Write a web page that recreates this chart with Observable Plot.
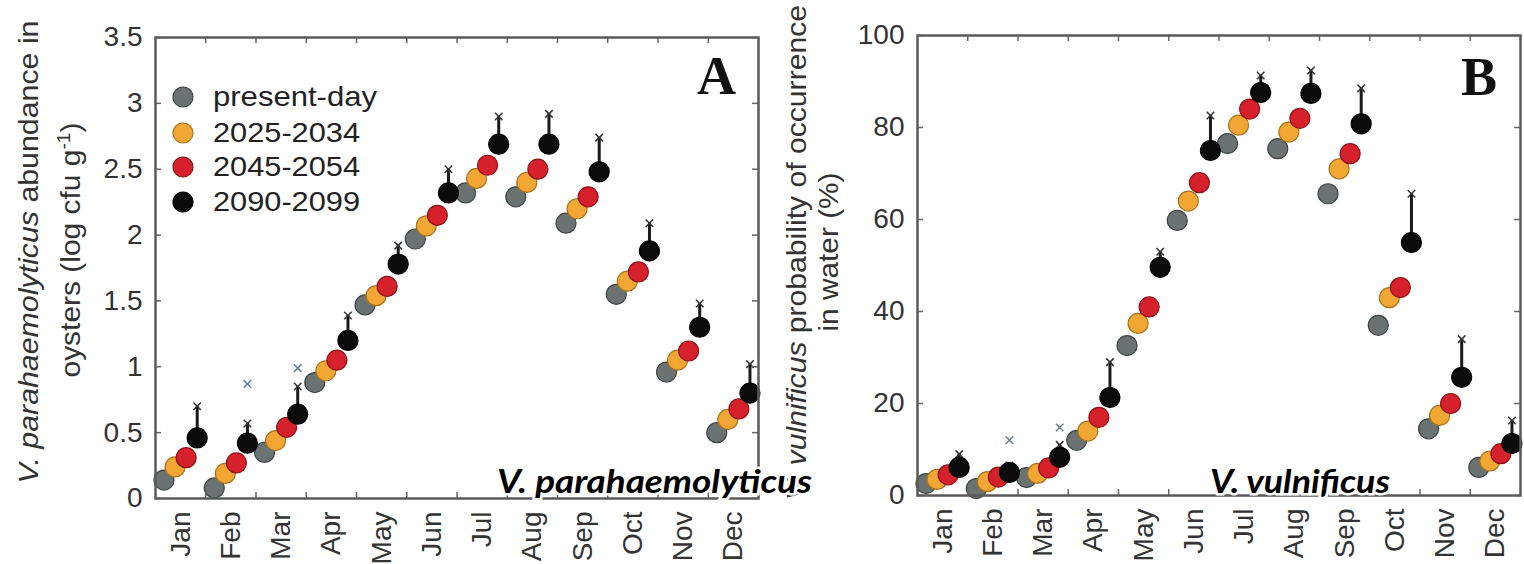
<!DOCTYPE html>
<html><head><meta charset="utf-8">
<script src="https://cdn.jsdelivr.net/npm/d3@7"></script>
<script src="https://cdn.jsdelivr.net/npm/@observablehq/plot@0.6"></script>
<style>
body{margin:0;background:#fff;}
#wrap{position:relative;width:1524px;height:564px;overflow:hidden;background:#fff;}
#wrap > svg{position:absolute;top:0;}
</style></head><body><div id="wrap"></div>
<script>
// ---- data ----
const months = ["Jan","Feb","Mar","Apr","May","Jun","Jul","Aug","Sep","Oct","Nov","Dec"];
const scenarios = ["present-day","2025-2034","2045-2054","2090-2099"];
const fills = ["#6b7372","#f2a634","#d6202b","#0b0b0b"];
const edges = ["#3e4644","#a8741c","#8c1218","#000000"];

// Panel A: V. parahaemolyticus abundance in oysters (log cfu g-1)
const vpPresent = [0.14,0.08,0.35,0.88,1.47,1.97,2.32,2.29,2.09,1.55,0.96,0.50];
const vp2025    = [0.24,0.19,0.44,0.97,1.54,2.07,2.43,2.40,2.20,1.65,1.05,0.60];
const vp2045    = [0.31,0.27,0.54,1.05,1.61,2.15,2.53,2.50,2.29,1.72,1.12,0.68];
const vp2090    = [0.46,0.42,0.64,1.20,1.78,2.32,2.69,2.69,2.48,1.88,1.30,0.80];
const vp2090Max = [0.70,0.57,0.85,1.39,1.92,2.50,2.90,2.92,2.74,2.09,1.48,1.02];
const vpOutMonth = [2,3];
const vpOutValue = [0.87,0.99];
const vpTicks = [0,0.5,1,1.5,2,2.5,3,3.5];

// Panel B: V. vulnificus probability of occurrence in water (%)
const vvPresent = [2.6,1.5,3.9,12.0,32.6,59.8,76.5,75.4,65.6,37.0,14.5,6.1];
const vv2025    = [3.5,3.0,4.8,14.0,37.4,64.0,80.5,79.0,71.0,43.0,17.4,7.5];
const vv2045    = [4.5,4.0,6.0,17.0,41.0,68.0,84.0,82.0,74.3,45.2,20.0,9.1];
const vv2090    = [6.1,5.0,8.3,21.3,49.6,75.0,87.6,87.4,80.8,55.0,25.7,11.3];
const vv2090Max = [9.0,6.5,11.0,29.0,53.0,82.6,91.3,92.4,88.5,65.6,34.0,16.3];
const vvOutMonth = [2,3];
const vvOutValue = [12.0,14.8];
const vvTicks = [0,20,40,60,80,100];

const FONT = "'Liberation Sans', Arial, sans-serif";
const monthNums = months.map((m,i)=>i+1);
const boundaries = months.slice(1).map((m,i)=>i+1.5);
const OFF = 0.22; // horizontal dodge between scenarios (month units)
const xOf = (month,k) => month + (k-1.5)*OFF;

function panel(o){
  const series = [o.present,o.s2025,o.s2045,o.s2090];
  const innerW = o.width - o.marginLeft - o.marginRight;
  const innerH = 564 - o.marginTop - o.marginBottom;
  const spread = o.max.map((v,i)=>({month:i+1, lo:o.s2090[i], hi:v}));
  const outs = o.outM.map((m,i)=>({month:m, value:o.outV[i]}));
  const dotMarks = series.map((vals,k)=>Plot.dot(vals.map((v,i)=>({month:i+1,value:v})), {
    x: d=>xOf(d.month,k), y:"value", r:10, fill:fills[k], stroke:edges[k], strokeWidth:1.2
  }));
  return Plot.plot({
    width:o.width, height:564,
    marginLeft:o.marginLeft, marginRight:o.marginRight, marginTop:o.marginTop, marginBottom:o.marginBottom,
    style:{fontSize:"28px", fontFamily:FONT, color:"#333", background:"transparent", overflow:"visible"},
    x:{domain:[0.5,12.5], ticks:monthNums, tickFormat:i=>months[i-1], tickRotate:-90, tickSize:0, tickPadding:13, label:null},
    y:{domain:o.yDomain, ticks:o.yTicks, tickFormat:d=>String(d), tickSize:0, tickPadding:13, label:null},
    marks:[
      Plot.ruleX(spread, {x:d=>xOf(d.month,3), y1:"lo", y2:"hi", stroke:"#1a1a1a", strokeWidth:3}),
      Plot.dot(spread, {x:d=>xOf(d.month,3), y:"hi", symbol:"times", r:3.5, stroke:"#333", strokeWidth:1.5}),
      Plot.dot(outs, {x:d=>xOf(d.month,3), y:"value", symbol:"times", r:3.5, stroke:"#6d7f90", strokeWidth:1.5}),
      ...dotMarks,
      Plot.tickX(boundaries, {x:d=>d, insetTop:innerH-6, stroke:"#666", strokeWidth:1.5}),
      Plot.tickX(boundaries, {x:d=>d, insetBottom:innerH-6, stroke:"#666", strokeWidth:1.5}),
      Plot.tickY(o.yTicks, {y:d=>d, insetRight:innerW-6, stroke:"#666", strokeWidth:1.5}),
      Plot.tickY(o.yTicks, {y:d=>d, insetLeft:innerW-6, stroke:"#666", strokeWidth:1.5}),
      Plot.frame({stroke:"#5a5a5a", strokeWidth:2.5})
    ]
  });
}

const wrap = document.getElementById("wrap");
const A = panel({present:vpPresent,s2025:vp2025,s2045:vp2045,s2090:vp2090,max:vp2090Max,outM:vpOutMonth,outV:vpOutValue,
  yDomain:[0,3.5], yTicks:vpTicks, width:790, marginLeft:155, marginRight:32, marginTop:37, marginBottom:66});
A.style.left = "0px";
wrap.appendChild(A);
const B = panel({present:vvPresent,s2025:vv2025,s2045:vv2045,s2090:vv2090,max:vv2090Max,outM:vvOutMonth,outV:vvOutValue,
  yDomain:[0,100], yTicks:vvTicks, width:734, marginLeft:127, marginRight:4, marginTop:35, marginBottom:69});
B.style.left = "790px";
wrap.appendChild(B);

// ---- overlay: axis titles, legend, panel letters, captions ----
const ov = d3.select(wrap).append("svg").attr("width",1524).attr("height",564)
  .style("left","0px").style("font-family",FONT);

function vlabel(x,y,len,anchor,parts){
  const t = ov.append("text").attr("x",x).attr("y",y).attr("transform",`rotate(-90,${x},${y})`)
    .attr("text-anchor",anchor).attr("font-size",28).attr("fill","#333")
    .attr("textLength",len).attr("lengthAdjust","spacingAndGlyphs");
  parts.forEach(p=>{
    const s = t.append("tspan").text(p.t);
    if(p.i) s.attr("font-style","italic");
    if(p.sup) s.attr("baseline-shift","super").attr("font-size",18);
  });
}
vlabel(38,252,463,"middle",[{t:"V. parahaemolyticus",i:true},{t:" abundance in"}]);
vlabel(80,250,255,"middle",[{t:"oysters (log cfu g"},{t:"-1",sup:true},{t:")"}]);
vlabel(806,500,495,"start",[{t:"V. vulnificus",i:true},{t:" probability of occurrence"}]);
vlabel(838,252,159,"middle",[{t:"in water  (%)"}]);

// legend
const legY = [97,133,167,202];
const legLen = [164,147,147,147];
scenarios.forEach((s,k)=>{
  ov.append("circle").attr("cx",183).attr("cy",legY[k]).attr("r",10).attr("fill",fills[k]).attr("stroke",edges[k]).attr("stroke-width",1.2);
  ov.append("text").attr("x",213).attr("y",legY[k]+9).attr("font-size",28).attr("fill","#222")
    .attr("textLength",legLen[k]).attr("lengthAdjust","spacingAndGlyphs").text(s);
});

// panel letters
[["A",697,94],["B",1461,95]].forEach(([t,x,y])=>{
  ov.append("text").attr("x",x).attr("y",y).attr("font-family","'Liberation Serif', 'Times New Roman', serif")
    .attr("font-weight","bold").attr("font-size",54).attr("fill","#111").text(t);
});

// captions
[["V. parahaemolyticus",497,493,315],["V. vulnificus",1210,493,180]].forEach(([t,x,y,len])=>{
  ov.append("text").attr("x",x).attr("y",y).attr("font-family","Lato, 'Open Sans', sans-serif")
    .attr("font-weight","bold").attr("font-style","italic").attr("font-size",33).attr("fill","#000")
    .attr("stroke","#fff").attr("stroke-width",5).attr("paint-order","stroke")
    .attr("textLength",len).attr("lengthAdjust","spacingAndGlyphs").text(t);
});
</script></body></html>
